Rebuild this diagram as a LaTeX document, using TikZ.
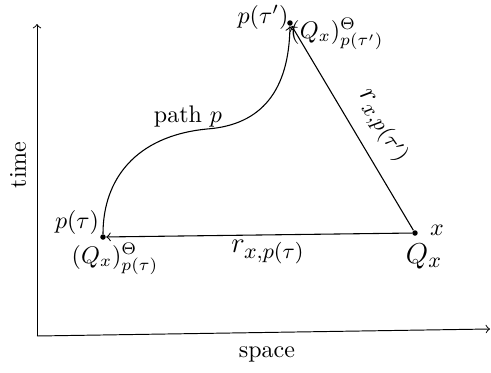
\documentclass[tikz,border=0pt]{standalone}
\usepackage{amsmath}
\begin{document}
\begin{tikzpicture}[x=0.4167pt,y=-0.4167pt,
  dot/.style={circle,fill=black,inner sep=0pt,minimum size=5.5pt*0.4167},
  lbl/.style={inner sep=1pt},
  big/.style={inner sep=1pt,font=\fontsize{13}{15}\selectfont},
  conn/.style={->,line width=0.45pt}]
\useasboundingbox (0,0) rectangle (491,373);
% axes
\coordinate (O) at (37,336);
\coordinate (ytop) at (37,24);
\coordinate (xend) at (490,329);
\draw[->,line width=0.4pt] (O) -- (ytop);
\draw[->,line width=0.4pt] (O) -- (xend);
\node[lbl,rotate=90] (time) at (18,165) {time};
\node[lbl] (space) at (267,354) {space};
% points
\node[dot] (pt) at (103,237) {};
\node[dot] (qx) at (415,233) {};
\node[dot] (ptp) at (290,23) {};
% connectors
\draw[conn] (qx) -- (pt);
\draw[conn] (qx) -- (ptp);
\coordinate (mid) at (207,129);
\draw[conn] (pt) .. controls (103,180) and (135,136) .. (mid)
  .. controls (262,125) and (289,90) .. (ptp);
% labels
\node[lbl] (lpt) at (77,222) {$p(\tau)$};
\node[lbl] (lqpt) at (115,259) {$(Q_x)^{\Theta}_{p(\tau)}$};
\node[lbl] (lptp) at (263,17) {$p(\tau')$};
\node[lbl] (lqptp) at (337,34) {$(Q_x)^{\Theta}_{p(\tau')}$};
\node[big] (lr) at (268,252) {$r_{x,p(\tau)}$};
\node[big,rotate=-55] (lrp) at (382,127) {$r_{x,p(\tau')}$};
\node[big] (lQ) at (424,256) {$Q_x$};
\node[lbl] (lx) at (437,230) {$x$};
\node[lbl] (lpath) at (188,117) {path $p$};
\end{tikzpicture}
\end{document}
